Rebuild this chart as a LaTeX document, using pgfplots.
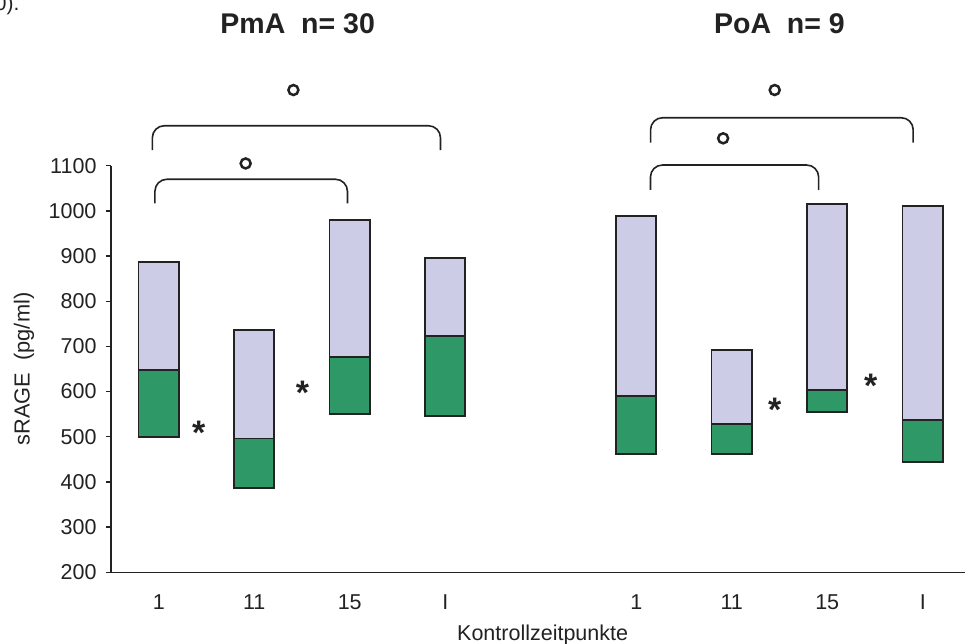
\documentclass[border=0pt]{standalone}
\usepackage{fontspec}
\setmainfont{Liberation Sans}
\usepackage{pgfplots}
\usepackage{pgfplotstable}
\pgfplotsset{compat=1.18}

\definecolor{lav}{RGB}{204,204,230}
\definecolor{grn}{RGB}{46,153,102}
\definecolor{ink}{RGB}{34,34,34}

% position, lower quartile, median, upper quartile
\pgfplotstableread{
pos low mid top
0 500 648 886
1 386 496 736
2 550 677 979
3 546 723 895
5 461 590 989
6 461 528 692
7 554 604 1015
8 444 537 1011
}\sragedata

\tikzset{
  ring/.style={circle, draw=ink, line width=2.5pt, minimum size=10pt, inner sep=0pt},
  star/.style={font=\fontsize{34}{36}\selectfont\bfseries, text=ink, inner sep=0pt},
  brace/.style={line width=1.6pt, draw=ink, rounded corners=12pt},
}

\begin{document}
\begin{tikzpicture}
\begin{axis}[
  at={(0,0)}, anchor=south west,
  scale only axis, width=854.7pt, height=406.6pt,
  xmin=-0.5, xmax=8.45, ymin=200, ymax=1100,
  axis x line*=bottom, axis y line*=left,
  axis line style={line width=1.5pt, draw=ink},
  ybar stacked, bar width=40.3pt,
  clip=false,
  ytick={200,300,...,1100},
  xtick={0,1,2,3,5,6,7,8},
  xticklabels={1,11,15,I,1,11,15,I},
  minor xtick={-0.5,0.5,1.5,2.5,3.5,4.5,5.5,6.5,7.5},
  tick align=outside,
  major tick length=5pt, minor tick length=6pt,
  xtick style={draw=none},
  ytick style={line width=1.4pt, draw=ink},
  every minor tick/.append style={line width=1.4pt, draw=ink},
  /pgf/number format/assume math mode=true,
  /pgf/number format/1000 sep={},
  tick label style={font=\fontsize{21.5}{25}\selectfont, text=ink},
  yticklabel style={xshift=-6pt},
  xticklabel style={yshift=-14pt},
  xlabel={Kontrollzeitpunkte},
  ylabel={sRAGE~~(pg/ml)},
  xlabel style={at={(axis description cs:0.505,0)}, anchor=base, yshift=-67.7pt,
                font=\fontsize{21.5}{25}\selectfont, text=ink},
  ylabel style={at={(axis description cs:-0.1018,0.5)}, anchor=center,
                font=\fontsize{21.8}{25}\selectfont, text=ink},
]
% invisible base up to the lower quartile
\addplot[draw=none, fill=none] table[x=pos, y=low] {\sragedata};
% lower quartile to median
\addplot[fill=grn, draw=ink, line width=1.8pt] table[x=pos, y expr=\thisrow{mid}-\thisrow{low}] {\sragedata};
% median to upper quartile
\addplot[fill=lav, draw=ink, line width=1.8pt] table[x=pos, y expr=\thisrow{top}-\thisrow{mid}] {\sragedata};

% group titles
\node[anchor=base, font=\fontsize{28.5}{32}\selectfont\bfseries, text=ink] at (axis cs:1.455,1393) {PmA~~n= 30};
\node[anchor=base, font=\fontsize{28.5}{32}\selectfont\bfseries, text=ink] at (axis cs:6.50,1393) {PoA~~n= 9};

% significance brackets
\draw[brace] (axis cs:-0.067,1134.7) -- (axis cs:-0.067,1188.5) -- (axis cs:2.95,1188.5) -- (axis cs:2.95,1134.7);
\draw[brace] (axis cs:-0.04,1016.8) -- (axis cs:-0.04,1070) -- (axis cs:1.976,1070) -- (axis cs:1.976,1016.8);
\draw[brace] (axis cs:5.15,1150.9) -- (axis cs:5.15,1206.2) -- (axis cs:7.90,1206.2) -- (axis cs:7.90,1150.9);
\draw[brace] (axis cs:5.149,1046.3) -- (axis cs:5.149,1101.5) -- (axis cs:6.91,1101.5) -- (axis cs:6.91,1046.3);
\node[ring] at (axis cs:1.41,1267.5) {};
\node[ring] at (axis cs:0.91,1105) {};
\node[ring] at (axis cs:6.45,1267.5) {};
\node[ring] at (axis cs:5.91,1160.6) {};
\node[star] at (axis cs:0.42,508) {*};
\node[star] at (axis cs:1.505,597) {*};
\node[star] at (axis cs:6.45,559) {*};
\node[star] at (axis cs:7.455,612) {*};
\end{axis}
\node[anchor=base east, font=\fontsize{21}{24}\selectfont, text=ink] at (-88pt,561.3pt) {0).};
\pgfresetboundingbox
\path (-111pt,-71.7pt) rectangle (854pt,572.3pt);
\end{tikzpicture}
\end{document}
